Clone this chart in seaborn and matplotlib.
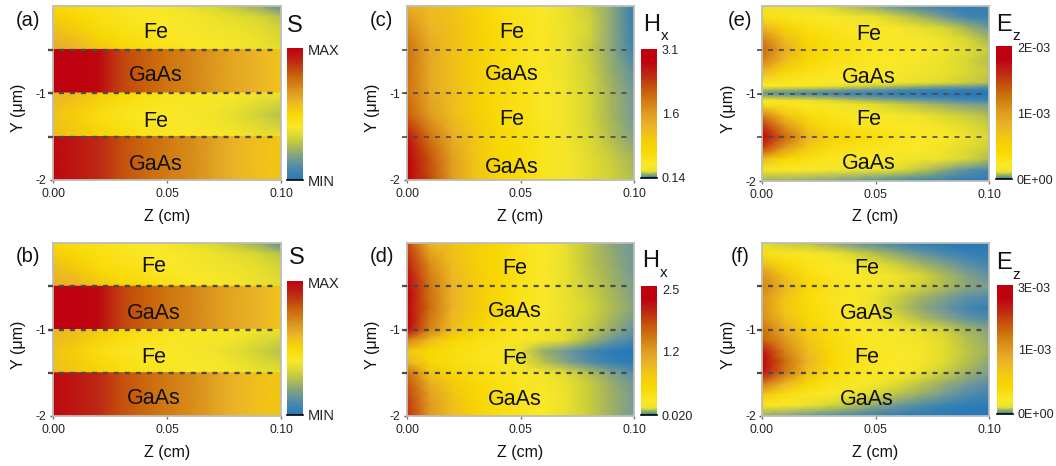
import numpy as np
import matplotlib
matplotlib.use("Agg")
import matplotlib.pyplot as plt
from matplotlib.colors import LinearSegmentedColormap
from matplotlib.transforms import Affine2D
import seaborn as sns

# ---- data: colour level (0..1 along the common colour ramp), rows top->bottom, columns z = 0 .. 0.10
S_fe1 = [[.50,.47,.44,.42,.40,.39,.36,.33,.28,.22,.10],
         [.53,.50,.46,.43,.41,.40,.39,.37,.35,.32,.27],
         [.57,.53,.48,.45,.42,.40,.39,.38,.37,.35,.31],
         [.60,.57,.52,.48,.45,.42,.40,.39,.38,.36,.33],
         [.62,.60,.56,.52,.48,.45,.42,.40,.39,.37,.35]]
S_gaas1 = [[1.0,1.0,.98,.85,.80,.75,.72,.67,.63,.60,.56],
           [1.0,1.0,.98,.85,.80,.75,.72,.67,.63,.60,.56]]
S_fe2 = [[.60,.58,.54,.50,.46,.43,.42,.41,.40,.38,.37],
         [.56,.53,.47,.43,.41,.40,.39,.38,.35,.31,.27],
         [.58,.55,.52,.48,.44,.42,.41,.40,.39,.37,.36]]
S_gaas2 = [[.98,.94,.90,.83,.78,.74,.70,.65,.60,.57,.55],
           [.98,.94,.90,.83,.78,.74,.70,.65,.60,.57,.55]]

Hx_c = [[.62,.58,.56,.52,.47,.43,.40,.36,.30,.20,.04],
        [.70,.60,.57,.53,.48,.44,.41,.37,.32,.20,.04],
        [.76,.63,.57,.53,.49,.44,.41,.37,.30,.20,.06],
        [.76,.63,.57,.53,.49,.44,.41,.37,.31,.22,.12],
        [.76,.63,.58,.53,.49,.45,.41,.38,.32,.24,.15],
        [.80,.66,.58,.53,.49,.45,.41,.38,.32,.24,.16],
        [.95,.75,.62,.55,.50,.47,.42,.38,.33,.26,.18],
        [1.0,.82,.65,.56,.51,.48,.42,.39,.35,.30,.24],
        [1.0,.84,.66,.56,.51,.48,.43,.39,.35,.31,.26]]

Hx_d_top = [[.85,.60,.56,.53,.50,.44,.40,.36,.28,.20,.15],
            [.92,.70,.58,.53,.50,.44,.40,.36,.28,.22,.15],
            [1.0,.75,.60,.54,.50,.44,.40,.36,.30,.24,.17],
            [1.0,.77,.60,.54,.50,.44,.40,.37,.32,.26,.19],
            [1.0,.72,.58,.52,.46,.42,.39,.36,.30,.22,.13]]
Hx_d_bot = [[1.0,.72,.58,.52,.46,.42,.39,.36,.30,.22,.13],
            [.72,.58,.50,.46,.43,.41,.38,.34,.24,.14,.08],
            [.55,.50,.47,.44,.41,.36,.22,.15,.08,.02,.00],
            [.60,.50,.47,.44,.42,.38,.27,.18,.10,.04,.02],
            [.76,.56,.50,.47,.44,.41,.39,.34,.26,.18,.10],
            [.82,.62,.54,.50,.46,.42,.39,.36,.30,.22,.15],
            [.85,.65,.56,.51,.47,.43,.40,.37,.30,.23,.16],
            [.87,.66,.57,.52,.47,.43,.40,.37,.30,.23,.16],
            [.88,.67,.57,.52,.47,.43,.40,.36,.30,.23,.16]]

Ez_e_top = [[.38,.37,.36,.33,.26,.20,.12,.07,.04,.02,.05],
            [.46,.43,.41,.40,.38,.36,.30,.24,.15,.07,.05],
            [.60,.52,.46,.43,.41,.40,.39,.36,.32,.24,.14],
            [.72,.58,.50,.46,.43,.41,.40,.39,.37,.32,.24],
            [.78,.62,.52,.48,.44,.42,.41,.40,.38,.34,.30],
            [.72,.58,.50,.46,.43,.41,.40,.39,.37,.32,.26],
            [.60,.50,.45,.42,.41,.40,.39,.38,.36,.33,.29],
            [.43,.42,.41,.40,.40,.39,.38,.36,.34,.30,.27]]
Ez_e_gap = [[.43,.42,.41,.40,.40,.39,.38,.36,.34,.30,.27],
            [.40,.40,.39,.37,.33,.30,.27,.24,.20,.18,.14],
            [.26,.24,.22,.20,.16,.14,.10,.08,.06,.05,.04],
            [.12,.10,.08,.06,.05,.04,.03,.02,.02,.00,.00],
            [.26,.24,.22,.18,.14,.12,.09,.07,.05,.04,.03],
            [.40,.39,.37,.33,.28,.24,.20,.16,.13,.10,.08],
            [.45,.43,.41,.39,.37,.34,.30,.26,.22,.18,.16]]
Ez_e_bot = [[.45,.43,.41,.39,.37,.34,.30,.26,.22,.18,.16],
            [.72,.56,.48,.44,.41,.40,.39,.37,.33,.30,.26],
            [.88,.68,.54,.48,.44,.42,.41,.40,.38,.35,.30],
            [1.0,.78,.60,.52,.50,.47,.43,.41,.40,.37,.33],
            [.85,.66,.54,.47,.44,.42,.41,.40,.38,.34,.30],
            [.58,.50,.45,.42,.41,.40,.39,.38,.37,.32,.26],
            [.42,.41,.40,.39,.38,.37,.34,.28,.20,.12,.08],
            [.22,.22,.20,.18,.14,.10,.06,.04,.03,.02,.02]]

Ez_f = [[.36,.30,.28,.22,.14,.10,.06,.03,.01,.00,.00],
        [.46,.42,.41,.38,.32,.26,.20,.14,.09,.05,.03],
        [.58,.50,.44,.41,.39,.36,.30,.24,.18,.12,.07],
        [.68,.56,.47,.42,.40,.39,.37,.32,.25,.18,.12],
        [.72,.60,.50,.45,.41,.39,.36,.31,.26,.20,.17],
        [.68,.56,.48,.43,.40,.37,.30,.24,.18,.12,.10],
        [.68,.55,.49,.44,.41,.37,.28,.20,.14,.08,.04],
        [.70,.58,.50,.45,.41,.38,.33,.26,.20,.13,.10],
        [.76,.62,.53,.47,.42,.40,.39,.36,.31,.24,.19],
        [.80,.67,.56,.49,.43,.41,.39,.38,.34,.27,.21],
        [.95,.72,.58,.50,.44,.42,.40,.39,.35,.28,.23],
        [1.0,.77,.60,.51,.44,.42,.40,.39,.34,.27,.20],
        [.96,.74,.57,.48,.43,.41,.40,.37,.30,.23,.17],
        [.75,.60,.50,.44,.41,.39,.34,.28,.22,.16,.11],
        [.55,.47,.42,.40,.38,.33,.27,.22,.16,.10,.07],
        [.42,.40,.37,.32,.27,.20,.15,.10,.06,.03,.02],
        [.22,.18,.14,.10,.07,.04,.02,.01,.00,.00,.00]]

# colour-bar contents, bottom -> top
cbar_linear = [0,.1,.2,.3,.4,.5,.6,.7,.8,.9,1.0]
cbar_compressed = [0,.36,.40,.44,.50,.52,.54,.57,.60,.63,.66,.70,.74,.78,.82,.86,.90,.94,1,1,1]

layer_names = ["Fe", "GaAs", "Fe", "GaAs"]
boundaries = [-0.5, -1.0, -1.5]
x_ticks = [0.0, 0.05, 0.10]
x_labels = ["0.00", "0.05", "0.10"]
y_ticks = [-1, -2]
y_labels = ["-1", "-2"]

ramp_stops = [(0.00, (35,120,185)), (0.08, (70,135,175)), (0.16, (120,155,150)),
              (0.24, (165,180,90)), (0.32, (215,215,50)), (0.40, (250,232,40)),
              (0.51, (248,215,0)), (0.60, (235,180,40)), (0.70, (215,140,25)),
              (0.80, (200,95,10)), (0.90, (190,40,20)), (1.00, (190,0,15))]
ramp = LinearSegmentedColormap.from_list(
    "tcad", [(p, tuple(c / 255 for c in rgb)) for p, rgb in ramp_stops], N=512)

S_layers = [(0, -.5, S_fe1), (-.5, -1, S_gaas1), (-1, -1.5, S_fe2), (-1.5, -2, S_gaas2)]

panels = [
 dict(tag="(a)", tag_xy=(16,21), box=(53,281,6,180), layers=S_layers, dash_lw=1.7, cb_size=10.5,
      cb=(287,303,48,180), cb_vals=cbar_linear, cb_ticks=[("MAX",49),("MIN",180)],
      var=("S",None), var_xy=(295,26), sub_xy=None,
      text_x=.045, text_y=[-.31,-.80,-1.33,-1.82]),
 dict(tag="(b)", tag_xy=(16,257), box=(53,281,243,416), layers=S_layers, dash_lw=1.7, cb_size=10.5,
      cb=(287,303,281,415), cb_vals=cbar_linear, cb_ticks=[("MAX",282),("MIN",415)],
      var=("S",None), var_xy=(297,258), sub_xy=None,
      text_x=.044, text_y=[-.27,-.82,-1.32,-1.80]),
 dict(tag="(c)", tag_xy=(370,21), box=(407,634,6,180), layers=[(0,-2,Hx_c)], dash_lw=1.2, cb_size=9,
      cb=(641,657,49,178), cb_vals=cbar_compressed, cb_ticks=[("3.1",49),("1.6",114),("0.14",178)],
      var=("H","x"), var_xy=(652,25), sub_xy=(665,36),
      text_x=.046, text_y=[-.30,-.79,-1.30,-1.86]),
 dict(tag="(d)", tag_xy=(370,257), box=(407,634,243,416), layers=[(0,-1,Hx_d_top),(-1,-2,Hx_d_bot)], dash_lw=1.6, cb_size=9,
      cb=(641,657,286,415), cb_vals=cbar_compressed, cb_ticks=[("2.5",289),("1.2",352),("0.020",415)],
      var=("H","x"), var_xy=(651,261), sub_xy=(664,273),
      text_x=.0476, text_y=[-.30,-.79,-1.34,-1.81]),
 dict(tag="(e)", tag_xy=(728,21), box=(762,989,6,181), layers=[(0,-.875,Ez_e_top),(-.875,-1.125,Ez_e_gap),(-1.125,-2,Ez_e_bot)], dash_lw=1.2, cb_size=9,
      cb=(996,1012,46,179), cb_vals=cbar_compressed, cb_ticks=[("2E-03",47),("1E-03",113),("0E+00",179)],
      var=("E","z"), var_xy=(1004,25), sub_xy=(1016,36),
      text_x=.047, text_y=[-.32,-.82,-1.30,-1.80]),
 dict(tag="(f)", tag_xy=(731,257), box=(762,989,243,416), layers=[(0,-2,Ez_f)], dash_lw=1.6, cb_size=9,
      cb=(997,1013,285,414), cb_vals=cbar_compressed, cb_ticks=[("3E-03",288),("1E-03",350),("0E+00",414)],
      var=("E","z"), var_xy=(1004,263), sub_xy=(1016,275),
      text_x=.046, text_y=[-.30,-.82,-1.32,-1.81]),
]

sns.set_theme(style="ticks")
plt.rcParams["font.family"] = ["Liberation Sans", "DejaVu Sans"]
W, H = 1056, 466
fig = plt.figure(figsize=(W/100, H/100), dpi=100)
fig.patch.set_facecolor("white")

def px_axes(x0, x1, y0, y1):
    return fig.add_axes([x0/W, 1-y1/H, (x1-x0)/W, (y1-y0)/H])

def px_text(x, y, s, size, **kw):
    fig.text(x/W, 1-y/H, s, fontsize=size, ha=kw.pop("ha","center"), va=kw.pop("va","center"), color="#111111", **kw)

for p in panels:
    x0, x1, y0, y1 = p["box"]
    ax = px_axes(x0, x1, y0, y1)
    for ytop, ybot, grid in p["layers"]:
        arr = np.array(grid)
        dz = 0.10 / (arr.shape[1]-1)
        dy = (ybot-ytop) / (arr.shape[0]-1)
        tr = Affine2D().scale(dz, dy).translate(0, ytop) + ax.transData
        sns.heatmap(arr, ax=ax, cmap=ramp, vmin=0, vmax=1, cbar=False,
                    xticklabels=False, yticklabels=False,
                    shading="gouraud", transform=tr)
    ax.set_xlim(0, 0.10)
    ax.set_ylim(-2, 0)
    ax.set_xticks(x_ticks, x_labels)
    ax.set_yticks(y_ticks, y_labels)
    ax.tick_params(axis="x", length=2.5, width=1, color="#777777", labelsize=8.8, pad=3.5, labelcolor="#222222")
    ax.tick_params(axis="y", length=2.5, width=1, color="#555555", labelsize=8.8, pad=2, labelcolor="#222222")
    for s in ax.spines.values():
        s.set_visible(True)
        s.set_color("#bdbdb5")
        s.set_linewidth(1.3)
    lw = p["dash_lw"]
    for b in boundaries:
        ax.plot([-0.002, 0.0975], [b, b], color="#4a4a4a", lw=lw, dashes=(3.6/lw, 4.3/lw), clip_on=False, zorder=5)
    for name, ty in zip(layer_names, p["text_y"]):
        ax.text(p["text_x"], ty, name, fontsize=15.5, ha="center", va="center", color="#111111", zorder=6)
    px_text((x0+x1)/2, y1+36, "Z (cm)", 11.5)
    px_text(x0-34, (y0+y1)/2+15, "Y (\u03bcm)", 11.5, rotation=90)
    px_text(p["tag_xy"][0], p["tag_xy"][1], p["tag"], 14.5, ha="left")
    px_text(p["var_xy"][0], p["var_xy"][1], p["var"][0], 17)
    if p["var"][1]:
        px_text(p["sub_xy"][0], p["sub_xy"][1], p["var"][1], 11)

    # colour bar, a two-column strip so that it can be shaded like the maps
    cx0, cx1, cy0, cy1 = p["cb"]
    cax = px_axes(cx0, cx1, cy0, cy1)
    vals = np.array(p["cb_vals"])[::-1]
    strip = np.column_stack([vals, vals])
    tr = Affine2D().scale(1, -1/(len(vals)-1)).translate(0, 1) + cax.transData
    sns.heatmap(strip, ax=cax, cmap=ramp, vmin=0, vmax=1, cbar=False,
                xticklabels=False, yticklabels=False, shading="gouraud", transform=tr)
    cax.set_xlim(0, 1)
    cax.set_ylim(0, 1)
    for s in cax.spines.values():
        s.set_visible(False)
    cax.spines["bottom"].set_visible(True)
    cax.spines["bottom"].set_color("black")
    cax.spines["bottom"].set_linewidth(1.2)
    cax.set_xticks([])
    cax.yaxis.tick_right()
    cax.set_yticks([(cy1-py)/(cy1-cy0) for _, py in p["cb_ticks"]], [t for t, _ in p["cb_ticks"]])
    cax.tick_params(axis="y", length=0, pad=3.5, labelsize=p["cb_size"], labelcolor="#222222", right=False)

fig.savefig("out.png", dpi=100)
